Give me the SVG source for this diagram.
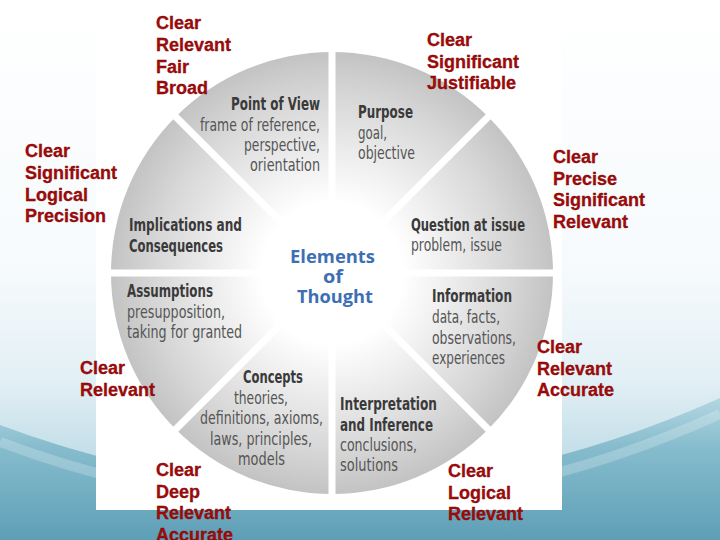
<svg xmlns="http://www.w3.org/2000/svg" width="720" height="540" viewBox="0 0 720 540">
<defs>
<linearGradient id="bg" x1="0" y1="0" x2="0" y2="1">
<stop offset="0" stop-color="#ffffff"/>
<stop offset="0.5" stop-color="#f6fafc"/>
<stop offset="0.7" stop-color="#e3f0f5"/>
<stop offset="0.82" stop-color="#c8e1ea"/>
<stop offset="1" stop-color="#a9d0dc"/>
</linearGradient>
<linearGradient id="wave" x1="0" y1="0" x2="0" y2="1">
<stop offset="0" stop-color="#b3d6e1"/>
<stop offset="0.35" stop-color="#86bccd"/>
<stop offset="1" stop-color="#5e9fb6"/>
</linearGradient>
<radialGradient id="wheel" cx="0.5" cy="0.5" r="0.5">
<stop offset="0" stop-color="#ffffff"/>
<stop offset="0.32" stop-color="#ffffff"/>
<stop offset="0.55" stop-color="#ececec"/>
<stop offset="0.8" stop-color="#d7d7d7"/>
<stop offset="1" stop-color="#c3c3c3"/>
</radialGradient>
<style>
.w{font-family:"Liberation Sans Narrow","DejaVu Sans Condensed","Liberation Sans",Arial,sans-serif;font-size:17px;}
.h{font-weight:bold;fill:#3a3a3a;}
.t{fill:#555555;}
.e{font-family:"Open Sans","Liberation Sans",Arial,sans-serif;font-weight:bold;font-size:18px;fill:#3e6fb4;}
.r{font-family:"Liberation Sans",Arial,sans-serif;font-weight:bold;font-size:18px;fill:#a00a0a;stroke:#7a0505;stroke-width:0.3;}
.gap{stroke:#ffffff;stroke-width:7;}
</style>
</defs>
<g id="background">
<rect x="0" y="0" width="720" height="540" fill="url(#bg)"/>
<path d="M0,425 Q360,560 720,398 L720,540 L0,540 Z" fill="url(#wave)"/>
<path d="M0,442 Q360,578 720,414" fill="none" stroke="#ffffff" stroke-opacity="0.22" stroke-width="10"/>
<rect x="96" y="0" width="466" height="510" fill="#ffffff"/>
</g>
<g id="wheel">
<circle cx="332" cy="273" r="221" fill="url(#wheel)"/>
</g>
<g id="connectors">
<line class="gap" x1="332" y1="45" x2="332" y2="500"/>
<line class="gap" x1="104" y1="273" x2="560" y2="273"/>
<line class="gap" x1="168" y1="109" x2="496" y2="437"/>
<line class="gap" x1="496" y1="109" x2="168" y2="437"/>
</g>
<g id="point-of-view" class="w">
<text class="h" x="231" y="110" textLength="89" lengthAdjust="spacingAndGlyphs">Point of View</text>
<text class="t" x="200" y="130.5" textLength="120" lengthAdjust="spacingAndGlyphs">frame of reference,</text>
<text class="t" x="244" y="150.5" textLength="76" lengthAdjust="spacingAndGlyphs">perspective,</text>
<text class="t" x="250" y="170.5" textLength="70" lengthAdjust="spacingAndGlyphs">orientation</text>
</g>
<g id="purpose" class="w">
<text class="h" x="358" y="118" textLength="55" lengthAdjust="spacingAndGlyphs">Purpose</text>
<text class="t" x="358" y="138.5" textLength="29" lengthAdjust="spacingAndGlyphs">goal,</text>
<text class="t" x="358" y="158.5" textLength="57" lengthAdjust="spacingAndGlyphs">objective</text>
</g>
<g id="implications" class="w">
<text class="h" x="129" y="231" textLength="113" lengthAdjust="spacingAndGlyphs">Implications and</text>
<text class="h" x="129" y="251.5" textLength="94" lengthAdjust="spacingAndGlyphs">Consequences</text>
</g>
<g id="question" class="w">
<text class="h" x="411" y="230.5" textLength="114" lengthAdjust="spacingAndGlyphs">Question at issue</text>
<text class="t" x="411" y="250.5" textLength="91" lengthAdjust="spacingAndGlyphs">problem, issue</text>
</g>
<g id="assumptions" class="w">
<text class="h" x="127" y="297" textLength="86" lengthAdjust="spacingAndGlyphs">Assumptions</text>
<text class="t" x="127" y="317.5" textLength="98" lengthAdjust="spacingAndGlyphs">presupposition,</text>
<text class="t" x="127" y="338" textLength="115" lengthAdjust="spacingAndGlyphs">taking for granted</text>
</g>
<g id="information" class="w">
<text class="h" x="432" y="302" textLength="80" lengthAdjust="spacingAndGlyphs">Information</text>
<text class="t" x="432" y="323" textLength="68" lengthAdjust="spacingAndGlyphs">data, facts,</text>
<text class="t" x="432" y="344" textLength="84" lengthAdjust="spacingAndGlyphs">observations,</text>
<text class="t" x="432" y="364" textLength="73" lengthAdjust="spacingAndGlyphs">experiences</text>
</g>
<g id="concepts" class="w">
<text class="h" x="243" y="383" textLength="60" lengthAdjust="spacingAndGlyphs">Concepts</text>
<text class="t" x="234" y="403.5" textLength="54" lengthAdjust="spacingAndGlyphs">theories,</text>
<text class="t" x="200" y="424" textLength="123" lengthAdjust="spacingAndGlyphs">definitions, axioms,</text>
<text class="t" x="210" y="444.5" textLength="102" lengthAdjust="spacingAndGlyphs">laws, principles,</text>
<text class="t" x="238" y="465" textLength="47" lengthAdjust="spacingAndGlyphs">models</text>
</g>
<g id="interpretation" class="w">
<text class="h" x="340" y="410" textLength="97" lengthAdjust="spacingAndGlyphs">Interpretation</text>
<text class="h" x="340" y="430.5" textLength="93" lengthAdjust="spacingAndGlyphs">and Inference</text>
<text class="t" x="340" y="451" textLength="77" lengthAdjust="spacingAndGlyphs">conclusions,</text>
<text class="t" x="340" y="471" textLength="58" lengthAdjust="spacingAndGlyphs">solutions</text>
</g>
<g id="elements-of-thought">
<text class="e" x="290" y="263" textLength="85" lengthAdjust="spacingAndGlyphs">Elements</text>
<text class="e" x="323" y="283" textLength="20" lengthAdjust="spacingAndGlyphs">of</text>
<text class="e" x="297" y="303" textLength="76" lengthAdjust="spacingAndGlyphs">Thought</text>
</g>
<g id="label-point-of-view" class="r">
<text x="156" y="29">Clear</text>
<text x="156" y="50.5">Relevant</text>
<text x="156" y="72.5">Fair</text>
<text x="156" y="94">Broad</text>
</g>
<g id="label-purpose" class="r">
<text x="427" y="46">Clear</text>
<text x="427" y="67.5">Significant</text>
<text x="427" y="89">Justifiable</text>
</g>
<g id="label-implications" class="r">
<text x="25" y="157">Clear</text>
<text x="25" y="179">Significant</text>
<text x="25" y="200.5">Logical</text>
<text x="25" y="222">Precision</text>
</g>
<g id="label-question" class="r">
<text x="553" y="163">Clear</text>
<text x="553" y="184.5">Precise</text>
<text x="553" y="206">Significant</text>
<text x="553" y="227.5">Relevant</text>
</g>
<g id="label-information" class="r">
<text x="537" y="353">Clear</text>
<text x="537" y="374.5">Relevant</text>
<text x="537" y="396">Accurate</text>
</g>
<g id="label-assumptions" class="r">
<text x="80" y="374">Clear</text>
<text x="80" y="395.5">Relevant</text>
</g>
<g id="label-concepts" class="r">
<text x="156" y="476">Clear</text>
<text x="156" y="497.5">Deep</text>
<text x="156" y="519">Relevant</text>
<text x="156" y="540.5">Accurate</text>
</g>
<g id="label-interpretation" class="r">
<text x="448" y="477">Clear</text>
<text x="448" y="498.5">Logical</text>
<text x="448" y="520">Relevant</text>
</g>
</svg>
